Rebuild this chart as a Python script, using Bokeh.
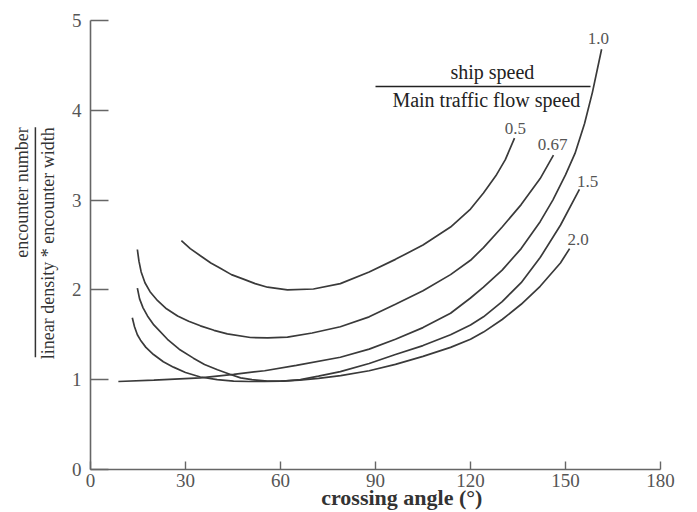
import math
from bokeh.plotting import figure
from bokeh.models import Range1d, FixedTicker, Label, Arrow
from bokeh.embed import file_html
from bokeh.resources import INLINE

# ---- data ----
x_ticks = [0, 30, 60, 90, 120, 150, 180]
y_ticks = [0, 1, 2, 3, 4, 5]

angle_05 = [28.7, 31.5, 34.7, 38, 41.0, 44.5, 48.3, 52, 55.9, 62.2, 70.4, 78.9, 88, 96.3, 105, 113.7, 120, 124.1, 128, 131, 133.9]
val_05 = [2.55, 2.46, 2.38, 2.30, 2.24, 2.17, 2.12, 2.07, 2.03, 2.00, 2.01, 2.07, 2.20, 2.34, 2.50, 2.70, 2.90, 3.08, 3.27, 3.45, 3.69]

angle_067 = [14.8, 15.3, 16.0, 17.2, 18.8, 21.2, 24, 27.5, 31, 34.7, 39, 43.2, 50.5, 56, 62.2, 70, 78.9, 88, 96.3, 105, 113.7, 120, 124.1, 130, 136, 142, 146.2]
val_067 = [2.45, 2.32, 2.20, 2.08, 1.98, 1.88, 1.79, 1.71, 1.65, 1.60, 1.55, 1.51, 1.47, 1.465, 1.475, 1.52, 1.59, 1.70, 1.84, 1.99, 2.17, 2.33, 2.47, 2.70, 2.95, 3.24, 3.50]

angle_10 = [8.8, 20, 34.7, 45.2, 55, 65, 78.9, 88, 96.3, 105, 113.7, 120, 124.1, 130, 136, 142, 146, 150, 153, 156, 158.5, 161.4]
val_10 = [0.98, 0.995, 1.02, 1.06, 1.10, 1.16, 1.25, 1.34, 1.45, 1.58, 1.74, 1.91, 2.03, 2.22, 2.46, 2.76, 3.00, 3.28, 3.52, 3.85, 4.20, 4.68]

angle_15 = [14.8, 15.5, 16.6, 18.0, 20, 24.3, 28, 32.5, 36, 40.1, 44, 47.4, 51, 55.9, 61, 66.3, 72, 78.9, 88, 96.3, 105, 113.7, 120, 124.1, 130, 136, 142, 148.4, 154.4]
val_15 = [2.02, 1.90, 1.80, 1.71, 1.61, 1.45, 1.34, 1.24, 1.17, 1.11, 1.06, 1.02, 1.00, 0.985, 0.985, 1.00, 1.04, 1.09, 1.18, 1.28, 1.38, 1.50, 1.61, 1.70, 1.87, 2.08, 2.36, 2.72, 3.12]

angle_20 = [13.2, 13.9, 14.8, 15.8, 17.5, 19.9, 23, 26.2, 30, 34.7, 40, 45.2, 50, 55, 60, 66, 72, 79, 88, 96.3, 105, 113.7, 120, 124.1, 130, 136, 142, 148.4, 151.3]
val_20 = [1.69, 1.59, 1.50, 1.44, 1.36, 1.28, 1.20, 1.14, 1.08, 1.03, 1.00, 0.985, 0.98, 0.98, 0.985, 0.995, 1.015, 1.045, 1.10, 1.17, 1.26, 1.36, 1.45, 1.53, 1.67, 1.84, 2.04, 2.30, 2.46]

curve_names = ["0.5", "0.67", "1.0", "1.5", "2.0"]
curve_x = [angle_05, angle_067, angle_10, angle_15, angle_20]
curve_y = [val_05, val_067, val_10, val_15, val_20]
label_x = [134.2, 145.9, 160.4, 157.0, 154.0]
label_y = [3.80, 3.62, 4.80, 3.21, 2.56]

x_title = "crossing angle (°)"
y_num = "encounter number"
y_den = "linear density * encounter width"
leg_num = "ship speed"
leg_den = "Main traffic flow speed"

SERIF = "Liberation Serif"

W, H = 697, 512
X0_PX, Y0_PX = 90, 469          # pixel position of the data origin
PX_PER_DEG = 570 / 180
PX_PER_UNIT = 449 / 5

x_range = Range1d(-X0_PX / PX_PER_DEG, (W - X0_PX) / PX_PER_DEG)
y_range = Range1d(-(H - Y0_PX) / PX_PER_UNIT, Y0_PX / PX_PER_UNIT)

p = figure(width=W, height=H, x_range=x_range, y_range=y_range,
           output_backend="svg", toolbar_location=None,
           min_border_left=0, min_border_right=0, min_border_top=0, min_border_bottom=0)
p.grid.visible = False
p.outline_line_color = None
p.background_fill_color = "white"
p.border_fill_color = "white"

p.xaxis.ticker = FixedTicker(ticks=x_ticks)
p.yaxis.ticker = FixedTicker(ticks=y_ticks)
p.xaxis.fixed_location = 0
p.yaxis.fixed_location = 0
p.xaxis.bounds = (0, 180)
p.yaxis.bounds = (0, 5)
for ax in (p.xaxis[0], p.yaxis[0]):
    ax.axis_line_color = "#666666"
    ax.axis_line_width = 1.6
    ax.major_tick_line_color = "#666666"
    ax.major_tick_line_width = 1.4
    ax.minor_tick_line_color = None
    ax.major_tick_out = 0
    ax.major_label_text_font = SERIF
    ax.major_label_text_font_size = "19px"
    ax.major_label_text_color = "#555555"
p.xaxis.major_tick_in = 8
p.yaxis.major_tick_in = 18
p.xaxis.major_label_standoff = 4
p.yaxis.major_label_standoff = 9

for xs, ys in zip(curve_x, curve_y):
    p.line(xs, ys, line_color="#3a3a3a", line_width=1.7)

for name, lx, ly in zip(curve_names, label_x, label_y):
    p.add_layout(Label(x=lx, y=ly, text=name, text_align="center", text_baseline="middle",
                       text_font=SERIF, text_font_size="17px", text_color="#555555"))

# fraction inside the plot
p.add_layout(Label(x=126.9, y=4.30, text=leg_num, text_align="center", text_baseline="bottom",
                   text_font=SERIF, text_font_size="20px", text_color="#222222"))
p.add_layout(Arrow(end=None, x_start=90, y_start=4.265, x_end=157.9, y_end=4.265,
                   line_color="#222222", line_width=1.3))
p.add_layout(Label(x=125, y=4.235, text=leg_den, text_align="center", text_baseline="top",
                   text_font=SERIF, text_font_size="20px", text_color="#222222"))

# x title
p.add_layout(Label(x=98.3, y=-0.31, text=x_title, text_align="center", text_baseline="middle",
                   text_font=SERIF, text_font_size="22px", text_font_style="bold", text_color="#333333"))

# y title as a fraction
p.add_layout(Label(x=-21.5, y=3.81, text=y_num, angle=math.pi / 2, text_align="right", text_baseline="middle",
                   text_font=SERIF, text_font_size="18px", text_color="#333333"))
p.add_layout(Arrow(end=None, x_start=-17.4, y_start=3.81, x_end=-17.4, y_end=1.25,
                   line_color="#333333", line_width=1.5))
p.add_layout(Label(x=-13.4, y=3.81, text=y_den, angle=math.pi / 2, text_align="right", text_baseline="middle",
                   text_font=SERIF, text_font_size="18px", text_color="#333333"))

open("out.html", "w").write(file_html(p, INLINE))
